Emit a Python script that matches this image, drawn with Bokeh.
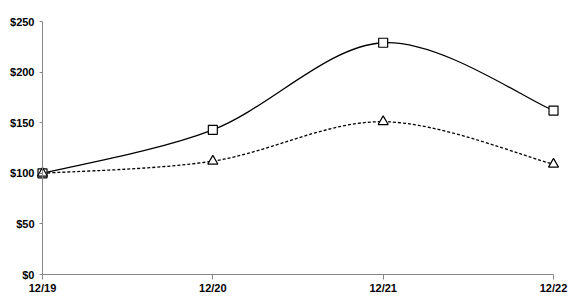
from bokeh.plotting import figure
from bokeh.models import FixedTicker, Range1d, NumeralTickFormatter, Span
from bokeh.embed import file_html
from bokeh.resources import INLINE

categories = ["12/19", "12/20", "12/21", "12/22"]
series_square = [100, 143, 229, 162]
series_triangle = [100, 112, 151, 109]
y_ticks = [0, 50, 100, 150, 200, 250]

xs = list(range(len(categories)))
pad = 0.0352

p = figure(width=573, height=298, output_backend="svg", toolbar_location=None,
           x_range=Range1d(-pad, 3 + pad), y_range=Range1d(0, 250),
           min_border_left=36, min_border_right=14, min_border_top=21, min_border_bottom=24)
p.outline_line_color = None
p.xgrid.visible = False
p.ygrid.visible = False
p.background_fill_color = "white"
p.border_fill_color = "white"

p.add_layout(Span(location=0, dimension="height", line_color="#868686", line_width=1))


def bezier_segments(x, y):
    n = len(x)
    out = dict(x0=[], y0=[], x1=[], y1=[], cx0=[], cy0=[], cx1=[], cy1=[])
    for i in range(n - 1):
        i0 = max(i - 1, 0)
        i3 = min(i + 2, n - 1)
        out["x0"].append(x[i]); out["y0"].append(y[i])
        out["x1"].append(x[i + 1]); out["y1"].append(y[i + 1])
        out["cx0"].append(x[i] + (x[i + 1] - x[i0]) / 6)
        out["cy0"].append(y[i] + (y[i + 1] - y[i0]) / 6)
        out["cx1"].append(x[i + 1] - (x[i3] - x[i]) / 6)
        out["cy1"].append(y[i + 1] - (y[i3] - y[i]) / 6)
    return out

s1 = bezier_segments(xs, series_square)
p.bezier(**s1, line_color="black", line_width=1.3)
s2 = bezier_segments(xs, series_triangle)
p.bezier(**s2, line_color="black", line_width=1.3, line_dash="3 2")

p.scatter(xs, series_square, marker="square", size=9, fill_color="white",
          line_color="black", line_width=1.2)
p.scatter(xs, series_triangle, marker="triangle", size=10, fill_color="white",
          line_color="black", line_width=1.2)

for ax in (p.xaxis[0], p.yaxis[0]):
    ax.axis_line_color = "#868686"
    ax.major_tick_line_color = "#868686"
    ax.minor_tick_line_color = None
    ax.minor_tick_out = 0
    ax.minor_tick_in = 0
    ax.major_label_text_font = "Liberation Sans"
    ax.major_label_text_font_style = "bold"
    ax.major_label_text_font_size = "11px"
    ax.major_label_text_color = "black"

p.xaxis.ticker = FixedTicker(ticks=xs)
p.xaxis.major_label_overrides = {i: c for i, c in enumerate(categories)}
p.xaxis.major_tick_in = 0
p.xaxis.major_tick_out = 5
p.xaxis.major_label_standoff = 2
p.xaxis.bounds = (0, 3)

p.yaxis.ticker = FixedTicker(ticks=y_ticks)
p.yaxis.formatter = NumeralTickFormatter(format="$0")
p.yaxis.axis_line_color = None
p.yaxis.major_tick_in = 6
p.yaxis.major_tick_out = -3
p.yaxis.major_label_standoff = 2

open("out.html", "w").write(file_html(p, INLINE))
